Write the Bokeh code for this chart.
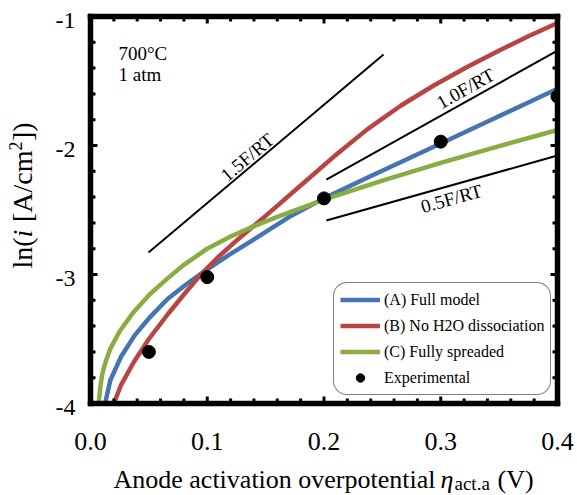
import numpy as np
from bokeh.plotting import figure
from bokeh.models import Range1d, Legend, LegendItem, ColumnDataSource
from bokeh.core.properties import value
from bokeh.embed import file_html
from bokeh.resources import INLINE

# ---------------- data ----------------
eta_A = [0.0125, 0.017, 0.026, 0.038, 0.051, 0.066, 0.083, 0.1, 0.12, 0.137, 0.17, 0.2,
         0.237, 0.266, 0.3, 0.337, 0.37, 0.4]
lni_A = [-4.0, -3.82, -3.64, -3.47, -3.33, -3.19, -3.07, -2.96, -2.84, -2.745, -2.555, -2.41,
         -2.25, -2.128, -1.985, -1.828, -1.688, -1.56]

eta_B = [0.02, 0.026, 0.037, 0.05, 0.066, 0.08, 0.094, 0.11, 0.124, 0.152, 0.18, 0.208,
         0.237, 0.266, 0.294, 0.323, 0.351, 0.375, 0.4]
lni_B = [-4.0, -3.86, -3.68, -3.50, -3.31, -3.155, -3.005, -2.86, -2.745, -2.53, -2.31, -2.09,
         -1.875, -1.69, -1.535, -1.39, -1.26, -1.153, -1.05]

eta_C = [0.007, 0.0085, 0.010, 0.013, 0.017, 0.025, 0.037, 0.05, 0.066, 0.08, 0.1, 0.12,
         0.14, 0.16, 0.2, 0.25, 0.3, 0.35, 0.4]
lni_C = [-4.0, -3.865, -3.775, -3.675, -3.575, -3.44, -3.29, -3.16, -3.03, -2.925, -2.80, -2.705,
         -2.625, -2.553, -2.42, -2.273, -2.135, -2.005, -1.88]

eta_exp = [0.05, 0.1, 0.2, 0.3, 0.4]
lni_exp = [-3.60, -3.02, -2.41, -1.97, -1.62]

# Tafel-slope guide lines
slope_names = ["1.5F/RT", "1.0F/RT", "0.5F/RT"]
slope_x = [[0.0497, 0.251], [0.202, 0.4], [0.202, 0.4]]
slope_y = [[-2.83, -1.295], [-2.264, -1.264], [-2.581, -2.078]]
slope_label_x = [0.1342, 0.3212, 0.3092]
slope_label_y = [-2.091, -1.558, -2.411]

series_names = ["(A) Full model", "(B) No H2O dissociation", "(C) Fully spreaded", "Experimental"]

x_major_ticks = [0.0, 0.1, 0.2, 0.3, 0.4]
x_tick_labels = ["0.0", "0.1", "0.2", "0.3", "0.4"]
y_major_ticks = [-4, -3, -2, -1]
y_tick_labels = ["-4", "-3", "-2", "-1"]

FONT = "Liberation Serif"
BLUE = "#4574B3"
RED = "#B94542"
GREEN = "#8AAC42"

X0, X1, Y0, Y1 = 0.0, 0.4, -4.0, -1.0

# ---------------- layout geometry (pixels) ----------------
W, H = 576, 494
SX, SY = 1167.5, 129.0          # pixels per data unit
BOX_L, BOX_T = 90, 16           # pixel position of (x=0, y=-1)

def px2x(px):
    return (px - BOX_L) / SX

def px2y(py):
    return Y1 - (py - BOX_T) / SY

xr = Range1d(px2x(0), px2x(W))
yr = Range1d(px2y(H), px2y(0))

p = figure(width=W, height=H, x_range=xr, y_range=yr, min_border=0,
           x_axis_location=None, y_axis_location=None,
           output_backend="svg", toolbar_location=None,
           background_fill_color="white", border_fill_color="white")
p.outline_line_color = None
p.xgrid.visible = False
p.ygrid.visible = False

# guide lines and their labels
angles = []
for xs, ys in zip(slope_x, slope_y):
    p.line(xs, ys, line_color="black", line_width=2)
    angles.append(float(np.arctan2((ys[1] - ys[0]) * SY, (xs[1] - xs[0]) * SX)))
src = ColumnDataSource(dict(x=slope_label_x, y=slope_label_y, text=slope_names, angle=angles))
p.text(x="x", y="y", text="text", angle="angle", source=src,
       text_font=value(FONT), text_font_size="19px", text_color="black",
       text_align="center", text_baseline="middle")

# model curves and experiment
rA = p.line(eta_A, lni_A, line_color=BLUE, line_width=4.5, line_join="round")
rB = p.line(eta_B, lni_B, line_color=RED, line_width=4.5, line_join="round")
rC = p.line(eta_C, lni_C, line_color=GREEN, line_width=4.5, line_join="round")
rE = p.scatter(eta_exp, lni_exp, size=13, marker="circle", fill_color="black", line_color="black")

# white cover right of the box (the last point is cut at the box edge)
p.patch([X1, xr.end, xr.end, X1], [Y0, Y0, Y1, Y1], fill_color="white", line_color=None)

# ---- thick axis box: four filled bands ----
hx, hy = 2.5 / SX, 2.5 / SY
bands_x = [[X0 - hx, X1 + hx, X1 + hx, X0 - hx],
           [X0 - hx, X1 + hx, X1 + hx, X0 - hx],
           [X0 - hx, X0 + hx, X0 + hx, X0 - hx],
           [X1 - hx, X1 + hx, X1 + hx, X1 - hx]]
bands_y = [[Y0 - hy, Y0 - hy, Y0 + hy, Y0 + hy],
           [Y1 - hy, Y1 - hy, Y1 + hy, Y1 + hy],
           [Y0 - hy, Y0 - hy, Y1 + hy, Y1 + hy],
           [Y0 - hy, Y0 - hy, Y1 + hy, Y1 + hy]]
p.patches(bands_x, bands_y, fill_color="black", line_color="black", line_width=0.5)

# ---- inward ticks as small filled bars ----
xt = [round(float(v), 3) for v in np.arange(X0, X1 + 1e-9, 0.02)]
yt = [round(float(v), 3) for v in np.arange(Y0, Y1 + 1e-9, 0.2)]
def tlen(t, majors):
    return 7 if any(abs(t - m) < 1e-6 for m in majors) else 5
tw_x, tw_y = 1.5 / SX, 1.5 / SY
tk_xs, tk_ys = [], []
for t in xt:
    L = tlen(t, x_major_ticks)
    tk_xs.append([t - tw_x, t + tw_x, t + tw_x, t - tw_x])
    tk_ys.append([Y0, Y0, Y0 + L / SY, Y0 + L / SY])
    tk_xs.append([t - tw_x, t + tw_x, t + tw_x, t - tw_x])
    tk_ys.append([Y1, Y1, Y1 - L / SY, Y1 - L / SY])
for t in yt:
    L = tlen(t, y_major_ticks)
    tk_ys.append([t - tw_y, t - tw_y, t + tw_y, t + tw_y])
    tk_xs.append([X0, X0 + L / SX, X0 + L / SX, X0])
    tk_ys.append([t - tw_y, t - tw_y, t + tw_y, t + tw_y])
    tk_xs.append([X1, X1 - L / SX, X1 - L / SX, X1])
p.patches(tk_xs, tk_ys, fill_color="black", line_color=None)

# tick labels
p.text(x=x_major_ticks, y=[px2y(441)] * len(x_major_ticks), text=x_tick_labels,
       text_font=value(FONT), text_font_size="26px", text_color="black",
       text_align="center", text_baseline="middle")
p.text(x=[px2x(75)] * len(y_major_ticks), y=[t - 4 / SY for t in y_major_ticks], text=y_tick_labels,
       text_font=value(FONT), text_font_size="24px", text_color="black",
       text_align="right", text_baseline="middle")

# y-axis title: ln(i [A/cm^2]) written bottom-to-top, in pieces
yl_mid = px2x(21.5)
ypieces = [
    ("ln(", 268.0, yl_mid, "28px", "normal"),
    ("i", 236.9, yl_mid, "28px", "italic"),
    ("[A/cm", 221.6, yl_mid, "28px", "normal"),
    ("2", 150.1, px2x(14.5), "18px", "normal"),
    ("])", 140.6, yl_mid, "28px", "normal"),
]
for txt, py, xx, fs, st in ypieces:
    p.text(x=[xx], y=[px2y(py)], text=[txt], angle=np.pi / 2,
           text_font=value(FONT), text_font_size=fs, text_font_style=st,
           text_color="black", text_align="left", text_baseline="middle")

# x-axis title with subscript
xpieces = [
    ("Anode activation overpotential", 113, 479, "26px", "normal"),
    ("η", 440, 479, "26px", "italic"),
    ("act.a", 454, 483, "19px", "normal"),
    ("(V)", 497, 479, "26px", "normal"),
]
for txt, px, py, fs, st in xpieces:
    p.text(x=[px2x(px)], y=[px2y(py)], text=[txt],
           text_font=value(FONT), text_font_size=fs, text_font_style=st,
           text_color="black", text_align="left", text_baseline="middle")

# condition note
p.text(x=[px2x(118), px2x(118)], y=[px2y(53), px2y(74)], text=["700°C", "1 atm"],
       text_font=value(FONT), text_font_size="19px", text_color="black",
       text_align="left", text_baseline="middle")

legend = Legend(items=[LegendItem(label=series_names[0], renderers=[rA]),
                       LegendItem(label=series_names[1], renderers=[rB]),
                       LegendItem(label=series_names[2], renderers=[rC]),
                       LegendItem(label=series_names[3], renderers=[rE])],
                location=(333, H - 395))
legend.label_text_font = FONT
legend.label_text_font_size = "16px"
legend.label_text_color = "black"
legend.border_line_color = "black"
legend.border_line_width = 1.5
legend.background_fill_color = "white"
legend.background_fill_alpha = 1.0
legend.padding = 6
legend.spacing = 5
legend.margin = 0
legend.label_standoff = 4
legend.glyph_width = 40
legend.glyph_height = 21
legend.label_height = 21
if "border_radius" in Legend.properties():
    legend.border_radius = 14
p.add_layout(legend)

open("out.html", "w").write(file_html(p, INLINE))
